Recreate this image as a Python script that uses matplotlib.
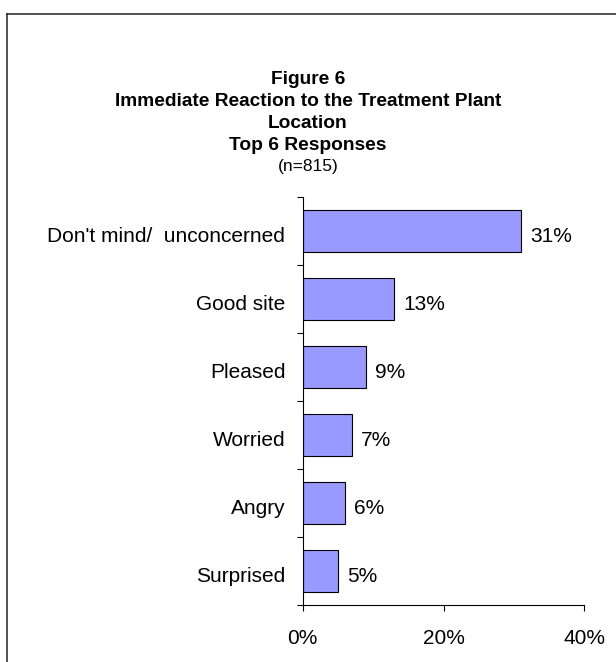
import matplotlib.pyplot as plt
import numpy as np
from matplotlib.lines import Line2D
from matplotlib.ticker import FixedLocator
from matplotlib.transforms import ScaledTranslation

plt.rcParams['font.family'] = ['Liberation Sans', 'DejaVu Sans']

categories = ["Don't mind/  unconcerned", 'Good site', 'Pleased', 'Worried', 'Angry', 'Surprised']
values = [31, 13, 9, 7, 6, 5]
xTicks = [0, 20, 40]
titleLines = ['Figure 6', 'Immediate Reaction to the Treatment Plant', 'Location', 'Top 6 Responses']
subtitle = '(n=815)'

W, H = 616, 662
fig = plt.figure(figsize=(W / 100, H / 100), dpi=100)
ax = fig.add_axes([302.7 / W, (H - 605) / H, 281.6 / W, 408 / H])

n = len(categories)
pos = np.arange(n)
ax.barh(pos, values, height=0.62, color='#9999ff', edgecolor='black', linewidth=0.8)
ax.set_ylim(n - 0.5, -0.5)
ax.set_xlim(0, 40)

for p, v in zip(pos, values):
    ax.annotate(f'{v}%', (v, p), xytext=(6.5, -2.5), textcoords='offset points',
                ha='left', va='center_baseline', fontsize=15)

ax.set_yticks(pos)
ax.set_yticklabels(categories, fontsize=15)
ax.yaxis.set_minor_locator(FixedLocator(np.arange(n + 1) - 0.5))
ax.tick_params(axis='y', which='major', length=0, pad=12.5)
ax.tick_params(axis='y', which='minor', length=4, width=0.8, direction='out')
shiftDown = ScaledTranslation(0, -2.5 / 72, fig.dpi_scale_trans)
for label in ax.get_yticklabels():
    label.set_transform(label.get_transform() + shiftDown)

ax.set_xticks(xTicks)
ax.set_xticklabels([f'{t}%' for t in xTicks], fontsize=15)
ax.tick_params(axis='x', length=4, width=0.8, direction='out', pad=13)

for side in ['top', 'right']:
    ax.spines[side].set_visible(False)
for side in ['left', 'bottom']:
    ax.spines[side].set_linewidth(0.8)
    ax.spines[side].set_color('black')

# title block, one line at a time
titleY = [80, 102, 124, 145]
for text, y in zip(titleLines, titleY):
    fig.text(0.5, 1 - y / H, text, ha='center', va='center', fontsize=13.8, fontweight='bold')
fig.text(0.5, 1 - 166 / H, subtitle, ha='center', va='center', fontsize=12.5)

# chart frame (right and bottom edges fall outside the picture)
fig.add_artist(Line2D([7.3 / W, 7.3 / W], [0, 1 - 14 / H], transform=fig.transFigure, color='#222222', linewidth=1.1))
fig.add_artist(Line2D([7.3 / W, 1], [1 - 14 / H, 1 - 14 / H], transform=fig.transFigure, color='#222222', linewidth=1.1))

fig.savefig('out.png', dpi=100)
